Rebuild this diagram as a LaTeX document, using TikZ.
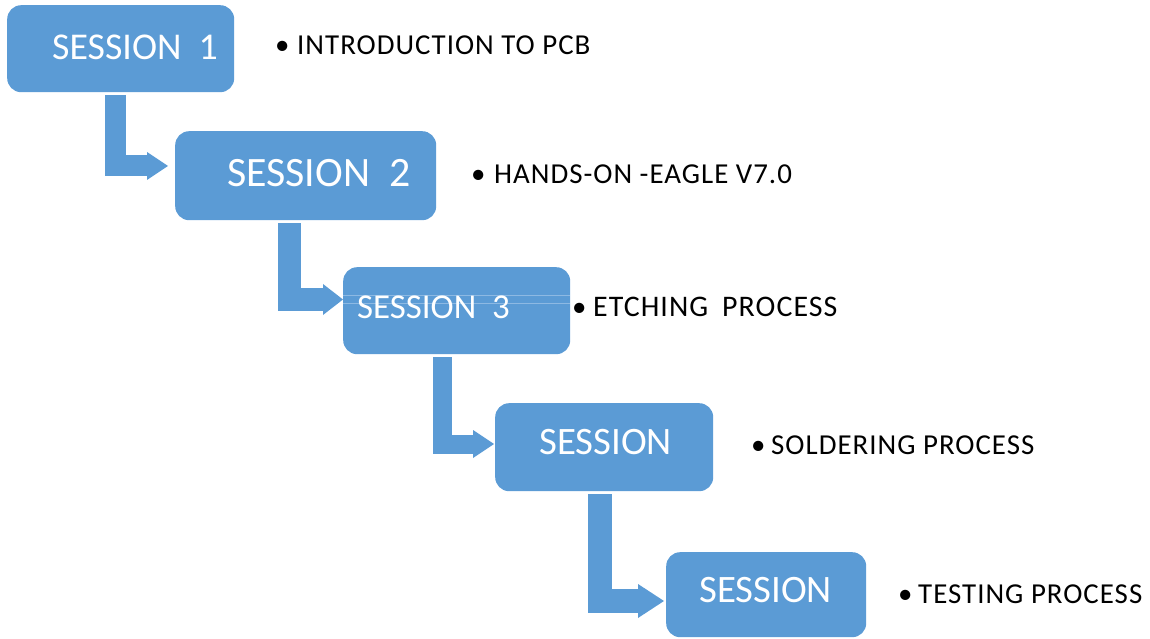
\documentclass[tikz,border=0pt]{standalone}
\usepackage{fontspec}
\setmainfont{Carlito}
\newfontfamily\spaced[LetterSpace=3.5]{Carlito}
\usetikzlibrary{arrows.meta,calc}
\definecolor{sblue}{HTML}{5B9BD5}
\definecolor{faintblue}{HTML}{8DB9E3}
\begin{document}
\begin{tikzpicture}[x=1bp,y=-1bp,
  box/.style={fill=sblue, draw=none, rounded corners=14bp, inner sep=0pt, anchor=north west},
  btext/.style={text=white, inner sep=0pt, anchor=base west},
  bullet/.style={text=black, inner sep=0pt, anchor=base west, font=\fontsize{29}{32}\selectfont},
  ltext/.style={text=black, inner sep=0pt, anchor=base west, font=\spaced\fontsize{29}{32}\selectfont},
  conn/.style n args={3}{draw=sblue, line width=#1bp, line join=miter, line cap=butt,
     -{Triangle[length=#3bp, width=#2bp, line width=0pt]}},
  faint/.style={draw=faintblue, line width=0.8bp}
]
\useasboundingbox (0,0) rectangle (1150,639);

% boxes
\node[box, minimum width=227bp, minimum height=87bp] (b1) at (7,5) {};
\node[box, minimum width=261bp, minimum height=89bp] (b2) at (175,131) {};
\node[box, minimum width=227bp, minimum height=87bp] (b3) at (343,267) {};
\node[box, minimum width=218bp, minimum height=88bp] (b4) at (495,403) {};
\node[box, minimum width=200bp, minimum height=85bp] (b5) at (666,552) {};

% faint lines in box 3
\draw[faint] ($(b3.north west)+(0,28)$) -- ($(b3.north east)+(0,28)$);
\draw[faint] ($(b3.north west)+(0,36)$) -- ($(b3.north east)+(0,36)$);

% box texts
\node[btext, font=\fontsize{38}{40}\selectfont] (t1) at (52,60) {SESSION\ \ 1};
\node[btext, font=\fontsize{42}{44}\selectfont] (t2) at (227,187) {SESSION\ \ 2};
\node[btext, font=\fontsize{35}{38}\selectfont] (t3) at (357,319) {SESSION\ \ 3};
\node[btext, font=\fontsize{39}{41}\selectfont] (t4) at (539,454) {SESSION};
\node[btext, font=\fontsize{39}{41}\selectfont] (t5) at (699,602) {SESSION};

% elbow arrows
\coordinate (a1s) at ($(b1.south west)+(108.5,3)$);
\coordinate (a1e) at ($(b2.north west)+(-7,35)$);
\draw[conn={21}{28}{21}] (a1s) |- (a1e);
\coordinate (a2s) at ($(b2.south west)+(114,3)$);
\coordinate (a2e) at ($(b3.north west)+(0,32.5)$);
\draw[conn={23}{31}{20}] (a2s) |- (a2e);
\coordinate (a3s) at ($(b3.south west)+(99,3)$);
\coordinate (a3e) at ($(b4.north west)+(-1,41)$);
\draw[conn={19}{28}{21}] (a3s) |- (a3e);
\coordinate (a4s) at ($(b4.south west)+(105,3)$);
\coordinate (a4e) at ($(b5.north west)+(-2,49)$);
\draw[conn={24}{34}{26}] (a4s) |- (a4e);

% bullets and labels
\node[bullet] (p1) at (275,55) {•};
\node[ltext] (l1) at (297,55) {INTRODUCTION TO PCB};
\node[bullet] (p2) at (471,184) {•};
\node[ltext] (l2) at (494,184) {HANDS-ON -EAGLE V7.0};
\node[bullet] (p3) at (572,317) {•};
\node[ltext, font=\spaced\fontsize{30}{33}\selectfont] (l3) at (593,317) {ETCHING\hspace{14bp}PROCESS};
\node[bullet] (p4) at (751,454) {•};
\node[ltext] (l4) at (771,454) {SOLDERING PROCESS};
\node[bullet] (p5) at (898,603) {•};
\node[ltext] (l5) at (918,603) {TESTING PROCESS};
\end{tikzpicture}
\end{document}
